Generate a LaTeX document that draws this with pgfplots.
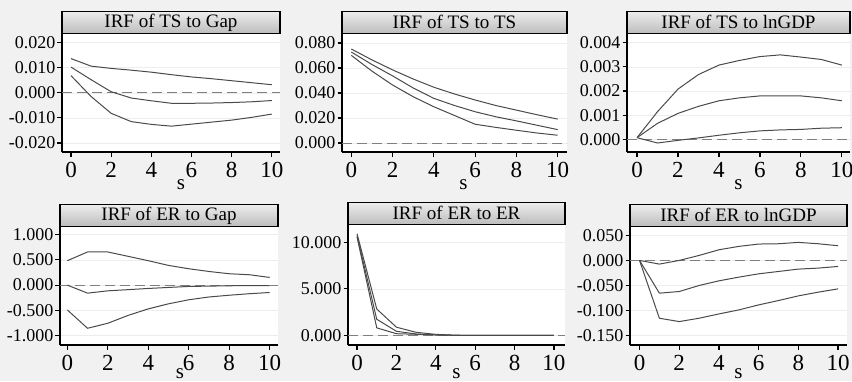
\documentclass[border=0pt]{standalone}
\usepackage{pgfplots}
\pgfplotsset{compat=1.18}
\usepackage{fontspec}
\setmainfont{Liberation Serif}
\definecolor{bgc}{HTML}{F1F1F1}
\definecolor{linec}{HTML}{4A4A4A}
\pgfplotsset{
  irf/.style={
    scale only axis,
    height=118pt,
    axis lines*=left,
    axis line style={line width=1.4pt, black},
    tick align=outside,
    major tick length=4.5pt,
    every tick/.style={black, line width=1.2pt},
    xtick={0,2,4,6,8,10},
    ymajorgrids,
    major grid style={black!7, line width=0.5pt},
    axis background/.style={fill=white},
    scaled y ticks=false,
    xlabel={s},
    xlabel style={font=\fontsize{21}{21}\selectfont, inner sep=0pt,
      at={(axis description cs:0.5,0)}, anchor=north, yshift=-27pt},
    x tick label style={font=\fontsize{23}{23}\selectfont, inner sep=1pt, anchor=north, yshift=-5pt},
    y tick label style={font=\fontsize{18}{18}\selectfont, inner sep=2pt,
      /pgf/number format/.cd, fixed, fixed zerofill, precision=3, assume math mode=true},
    xticklabel style={/pgf/number format/assume math mode=true},
    every axis title shift=0pt,
    title style={at={(0.5,1)}, anchor=south, draw=black, line width=1.2pt,
      top color=black!7, bottom color=black!26,
      minimum height=22pt, inner sep=0pt, yshift=0pt,
      font=\fontsize{19}{19}\selectfont},
    clip=false,
  },
  lowrow/.style={xlabel style={yshift=4pt}},
  irfl/.style={color=linec, line width=1pt, mark=none},
  zl/.style={color=black!50, line width=0.9pt, dash pattern=on 10pt off 5pt, mark=none},
}
\begin{document}
\begin{tikzpicture}[x=1pt,y=1pt]
\fill[bgc] (0,0) rectangle (852,381);
\useasboundingbox (0,0) rectangle (852,381);

% Panel 1
\begin{axis}[irf, at={(62pt,229pt)}, anchor=south west, width=218pt,
  title={IRF of TS to Gap}, title style={minimum width=218pt},
  xlabel style={xshift=10pt},
  xmin=-0.45, xmax=10.41, ymin=-0.0236, ymax=0.0234,
  ytick={-0.02,-0.01,0,0.01,0.02}]
\addplot[zl] coordinates {(-0.45,0) (10.41,0)};
\addplot[irfl] coordinates {(0,0.0136)(1,0.0106)(2,0.0097)(3,0.0090)(4,0.0082)(5,0.0072)(6,0.0063)(7,0.0056)(8,0.0048)(9,0.0040)(10,0.0032)};
\addplot[irfl] coordinates {(0,0.0102)(1,0.0052)(2,0.0004)(3,-0.0021)(4,-0.0032)(5,-0.0042)(6,-0.0042)(7,-0.0041)(8,-0.0039)(9,-0.0036)(10,-0.0031)};
\addplot[irfl] coordinates {(0,0.0068)(1,-0.0015)(2,-0.0082)(3,-0.0115)(4,-0.0126)(5,-0.0133)(6,-0.0125)(7,-0.0117)(8,-0.0109)(9,-0.0098)(10,-0.0085)};
\end{axis}

% Panel 2
\begin{axis}[irf, at={(342pt,229pt)}, anchor=south west, width=225pt,
  title={IRF of TS to TS}, title style={minimum width=225pt},
  xlabel style={xshift=9pt},
  xmin=-0.45, xmax=10.45, ymin=-0.0072, ymax=0.0872,
  ytick={0,0.02,0.04,0.06,0.08}]
\addplot[zl] coordinates {(-0.45,0) (10.45,0)};
\addplot[irfl] coordinates {(0,0.0752)(1,0.0665)(2,0.0585)(3,0.0512)(4,0.0446)(5,0.0392)(6,0.0344)(7,0.0300)(8,0.0263)(9,0.0226)(10,0.0191)};
\addplot[irfl] coordinates {(0,0.0728)(1,0.0628)(2,0.0537)(3,0.0440)(4,0.0357)(5,0.0300)(6,0.0250)(7,0.0210)(8,0.0177)(9,0.0142)(10,0.0107)};
\addplot[irfl] coordinates {(0,0.0701)(1,0.0575)(2,0.0464)(3,0.0370)(4,0.0290)(5,0.0220)(6,0.0150)(7,0.0125)(8,0.0102)(9,0.0080)(10,0.0062)};
\end{axis}

% Panel 3
\begin{axis}[irf, at={(627pt,229pt)}, anchor=south west, width=223pt,
  title={IRF of TS to lnGDP}, title style={minimum width=223pt},
  xmin=-0.49, xmax=10.4, ymin=-0.00051, ymax=0.00435,
  ytick={0,0.001,0.002,0.003,0.004}]
\addplot[zl] coordinates {(-0.49,0) (10.4,0)};
\addplot[irfl] coordinates {(0,0.00008)(1,0.00115)(2,0.00208)(3,0.00268)(4,0.00307)(5,0.00326)(6,0.00342)(7,0.00349)(8,0.00340)(9,0.00330)(10,0.00307)};
\addplot[irfl] coordinates {(0,0.00008)(1,0.00067)(2,0.00108)(3,0.00137)(4,0.0016)(5,0.00172)(6,0.0018)(7,0.0018)(8,0.0018)(9,0.00172)(10,0.0016)};
\addplot[irfl] coordinates {(0,0.00008)(1,-0.00014)(2,-0.00003)(3,0.00007)(4,0.00018)(5,0.00028)(6,0.00036)(7,0.0004)(8,0.00042)(9,0.00047)(10,0.00049)};
\end{axis}

% Panel 4
\begin{axis}[irf, lowrow, at={(60pt,36pt)}, anchor=south west, width=218pt,
  title={IRF of ER to Gap}, title style={minimum width=218pt},
  xlabel style={xshift=11pt},
  xmin=-0.36, xmax=10.41, ymin=-1.185, ymax=1.15,
  ytick={-1,-0.5,0,0.5,1}]
\addplot[zl] coordinates {(-0.36,0) (10.41,0)};
\addplot[irfl] coordinates {(0,0.483)(1,0.656)(2,0.656)(3,0.57)(4,0.483)(5,0.39)(6,0.324)(7,0.27)(8,0.225)(9,0.205)(10,0.152)};
\addplot[irfl] coordinates {(0,0)(1,-0.159)(2,-0.113)(3,-0.09)(4,-0.066)(5,-0.046)(6,-0.026)(7,-0.02)(8,-0.013)(9,-0.01)(10,-0.008)};
\addplot[irfl] coordinates {(0,-0.49)(1,-0.854)(2,-0.755)(3,-0.6)(4,-0.47)(5,-0.37)(6,-0.29)(7,-0.235)(8,-0.2)(9,-0.17)(10,-0.146)};
\end{axis}

% Panel 5
\begin{axis}[irf, lowrow, at={(348pt,36pt)}, anchor=south west, width=217pt, height=120pt,
  title={IRF of ER to ER}, title style={minimum width=217pt},
  xmin=-0.46, xmax=10.56, ymin=-1.03, ymax=11.84,
  ytick={0,5,10}]
\addplot[zl] coordinates {(-0.46,0) (10.56,0)};
\addplot[irfl] coordinates {(0,10.9)(1,2.83)(2,0.88)(3,0.33)(4,0.11)(5,0.02)(6,0)(7,0)(8,0)(9,0)(10,0)};
\addplot[irfl] coordinates {(0,10.7)(1,1.73)(2,0.44)(3,0.15)(4,0.04)(5,0.01)(6,0)(7,0)(8,0)(9,0)(10,0)};
\addplot[irfl] coordinates {(0,10.55)(1,0.81)(2,0.18)(3,0.12)(4,0.07)(5,0)(6,0)(7,0)(8,0)(9,0)(10,0)};
\end{axis}

% Panel 6
\begin{axis}[irf, lowrow, at={(630pt,36pt)}, anchor=south west, width=217pt,
  title={IRF of ER to lnGDP}, title style={minimum width=217pt},
  xmin=-0.48, xmax=10.45, ymin=-0.1687, ymax=0.0667,
  ytick={-0.15,-0.1,-0.05,0,0.05}]
\addplot[zl] coordinates {(-0.48,0) (10.45,0)};
\addplot[irfl] coordinates {(0,0)(1,-0.0073)(2,0)(3,0.01)(4,0.0213)(5,0.028)(6,0.0327)(7,0.0333)(8,0.036)(9,0.0333)(10,0.0293)};
\addplot[irfl] coordinates {(0,0)(1,-0.0653)(2,-0.062)(3,-0.05)(4,-0.0407)(5,-0.0333)(6,-0.0267)(7,-0.022)(8,-0.0173)(9,-0.0153)(10,-0.012)};
\addplot[irfl] coordinates {(0,0)(1,-0.1153)(2,-0.122)(3,-0.1153)(4,-0.1067)(5,-0.0987)(6,-0.0887)(7,-0.08)(8,-0.0707)(9,-0.0633)(10,-0.0567)};
\end{axis}
\end{tikzpicture}
\end{document}
